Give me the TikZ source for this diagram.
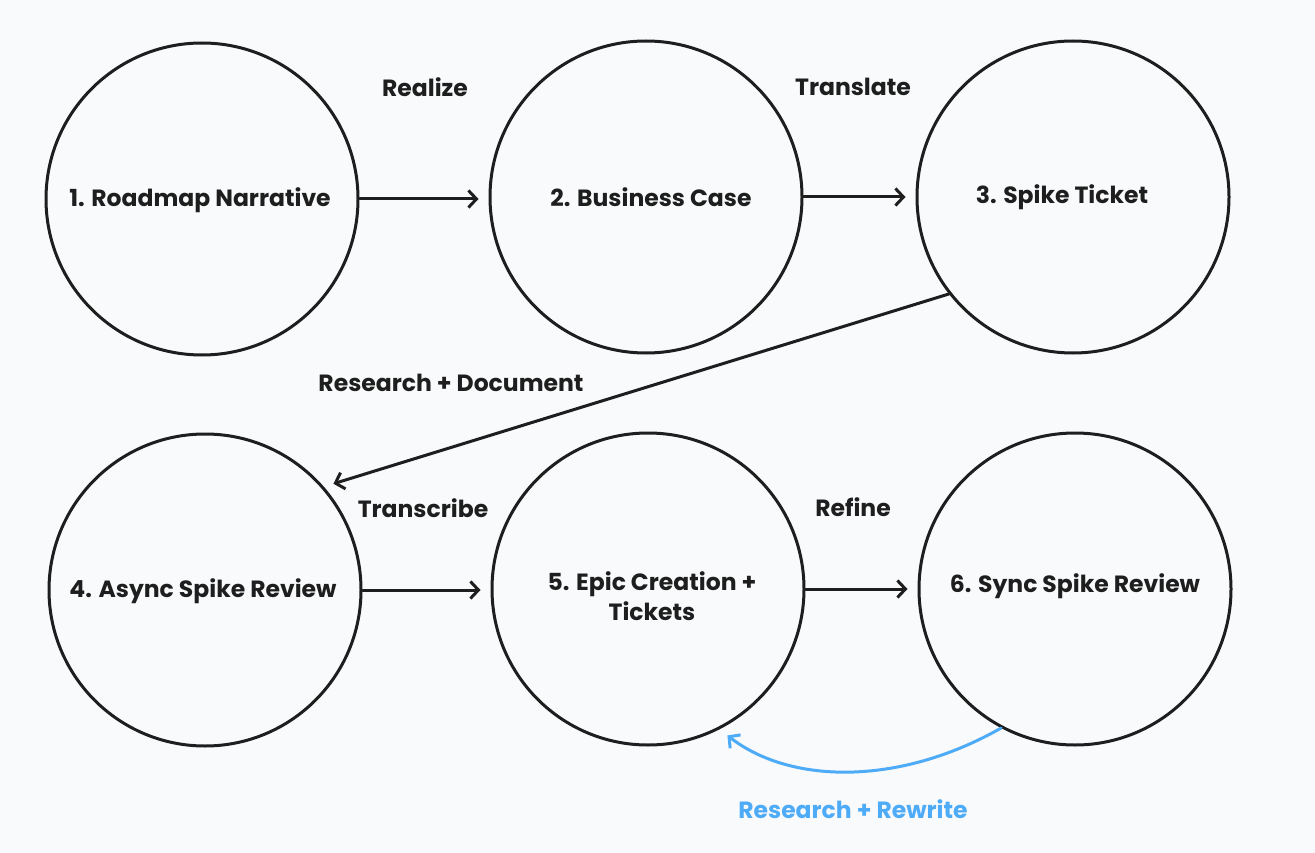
\documentclass[tikz,border=0pt]{standalone}
\usepackage{fontspec}
\setmainfont{Poppins}
\usetikzlibrary{arrows.meta}
\definecolor{bg}{RGB}{249,250,251}
\definecolor{ink}{RGB}{30,30,30}
\definecolor{sky}{RGB}{77,171,247}
\tikzset{
  x=1pt, y=-1pt,
  stage/.style={circle, draw=ink, line width=3pt, minimum size=312pt, inner sep=0pt},
  stagetext/.style={text=ink, font=\fontsize{23.5}{30}\selectfont\bfseries, align=center, inner sep=0pt},
  lbl/.style={text=ink, font=\fontsize{23.5}{28}\selectfont\bfseries, inner sep=0pt},
  flow/.style={draw=ink, line width=3pt, line cap=round,
    -{Straight Barb[length=8pt,width=17pt,line width=3pt]}, shorten >=10pt},
  loopback/.style={flow, draw=sky}
}
\begin{document}
\begin{tikzpicture}
\fill[bg] (0,0) rectangle (1315,853);
\useasboundingbox (0,0) rectangle (1315,853);

\node[stage] (c1) at (202,199) {};
\node[stage] (c2) at (646,197) {};
\node[stage] (c3) at (1073,197) {};
\node[stage] (c4) at (205,590) {};
\node[stage] (c5) at (648,589) {};
\node[stage] (c6) at (1075,589) {};

\node[stagetext] (t1) at (200,200) {1. Roadmap Narrative};
\node[stagetext] (t2) at (651,197) {2. Business Case};
\node[stagetext] (t3) at (1062,197) {3. Spike Ticket};
\node[stagetext] (t4) at (203,591) {4. Async Spike Review};
\node[stagetext] (t5) at (652,596) {5. Epic Creation +\\Tickets};
\node[stagetext] (t6) at (1075,586) {6. Sync Spike Review};

\node[lbl] (l12) at (425,87) {Realize};
\node[lbl] (l23) at (853,87) {Translate};
\node[lbl] (l34) at (451,383) {Research + Document};
\node[lbl] (l45) at (423,508) {Transcribe};
\node[lbl] (l56) at (853,507) {Refine};
\node[lbl, text=sky] (l65) at (853,809) {Research + Rewrite};

\draw[flow] (c1.east) -- (c1.east -| c2.west);
\draw[flow] (c2.east) -- (c2.east -| c3.west);
\draw[flow] (c3.218) -- (c4.41);
\draw[flow] (c4.east) -- (c4.east -| c5.west);
\draw[flow] (c5.east) -- (c5.east -| c6.west);
\draw[loopback] (c6.242) .. controls +(-102,58) and +(71,55) .. (c5.297);
\end{tikzpicture}
\end{document}
